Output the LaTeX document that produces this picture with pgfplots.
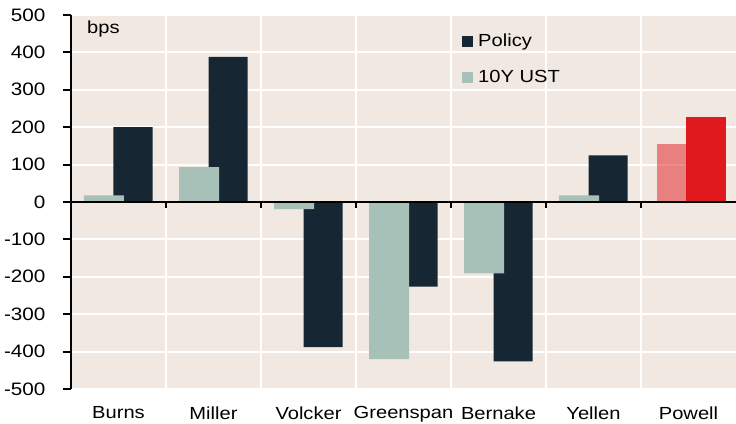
\documentclass[border=0pt]{standalone}
\usepackage{fontspec}
\setmainfont{Liberation Sans}[FakeStretch=1.15]
\usepackage{pgfplots}
\pgfplotsset{compat=1.18}
\definecolor{bgc}{RGB}{240,232,225}
\definecolor{darkc}{RGB}{23,38,51}
\definecolor{lightc}{RGB}{168,193,184}
\definecolor{pred}{RGB}{224,25,31}
\begin{document}
\begin{tikzpicture}[font=\fontsize{17.5pt}{21pt}\selectfont]
\begin{axis}[
  at={(0,0)}, anchor=south west,
  scale only axis, width=665pt, height=374pt,
  xmin=-0.5, xmax=6.5, ymin=-500, ymax=500,
  axis background/.style={fill=bgc},
  axis y line=left, axis x line=bottom,
  axis line style={-},
  x axis line style={draw=none},
  y axis line style={black, line width=2pt},
  xtick={0,1,2,3,4,5,6},
  xticklabels={Burns,Miller,Volcker,Greenspan,Bernake,Yellen,Powell},
  x tick style={draw=none},
  minor xtick={0.5,1.5,2.5,3.5,4.5,5.5},
  xminorgrids, minor x grid style={white, line width=2pt},
  minor x tick style={draw=none},
  ytick={-500,-400,-300,-200,-100,0,100,200,300,400,500},
  yticklabel={\pgfmathparse{int(\tick)}\textnormal{\pgfmathresult}},
  y tick style={black, line width=2pt},
  tick align=outside, major tick length=8pt,
  ymajorgrids, major y grid style={white, line width=2pt},
  xticklabel style={font=\fontsize{17.5pt}{21pt}\selectfont, yshift=-6pt},
  yticklabel style={font=\fontsize{18pt}{21pt}\selectfont, anchor=east, xshift=-14pt},
  legend style={at={(0.588,0.955)}, anchor=north west, draw=none, fill=none,
    inner sep=0pt, row sep=18pt, font=\fontsize{17.5pt}{21pt}\selectfont,
    nodes={inner xsep=5pt}},
  legend cell align=left,
  legend image code/.code={\fill[#1] (0pt,-5.5pt) rectangle (11pt,5.5pt);},
]
\addplot[ybar, bar width=39pt, bar shift=14.5pt, fill=darkc, draw=none]
  coordinates {(0,200) (1,388) (2,-388) (3,-226) (4,-426) (5,125)};
\addlegendentry{Policy}
\addplot[ybar, bar width=40pt, bar shift=-14.5pt, fill=lightc, draw=none]
  coordinates {(0,18) (1,93) (2,-19) (3,-420) (4,-191) (5,18)};
\addlegendentry{10Y UST}
\addplot[ybar, bar width=40pt, bar shift=-12pt, fill=pred, fill opacity=0.5, draw=none, forget plot]
  coordinates {(6,155)};
\addplot[ybar, bar width=40pt, bar shift=17pt, fill=pred, draw=none, forget plot]
  coordinates {(6,226)};
\draw[black, line width=2pt] (axis cs:-0.5,0) -- (axis cs:6.5,0);
\draw[black, line width=2pt] (axis cs:0.5,0) -- ([yshift=-6pt]axis cs:0.5,0);
\draw[black, line width=2pt] (axis cs:1.5,0) -- ([yshift=-6pt]axis cs:1.5,0);
\draw[black, line width=2pt] (axis cs:2.5,0) -- ([yshift=-6pt]axis cs:2.5,0);
\draw[black, line width=2pt] (axis cs:3.5,0) -- ([yshift=-6pt]axis cs:3.5,0);
\draw[black, line width=2pt] (axis cs:4.5,0) -- ([yshift=-6pt]axis cs:4.5,0);
\draw[black, line width=2pt] (axis cs:5.5,0) -- ([yshift=-6pt]axis cs:5.5,0);
\node[anchor=west, inner sep=0pt] at (rel axis cs:0,1) [xshift=16pt, yshift=-13.5pt] {bps};
\end{axis}
\pgfresetboundingbox
\path (-71pt,-34pt) rectangle (665pt,389pt);
\end{tikzpicture}
\end{document}
